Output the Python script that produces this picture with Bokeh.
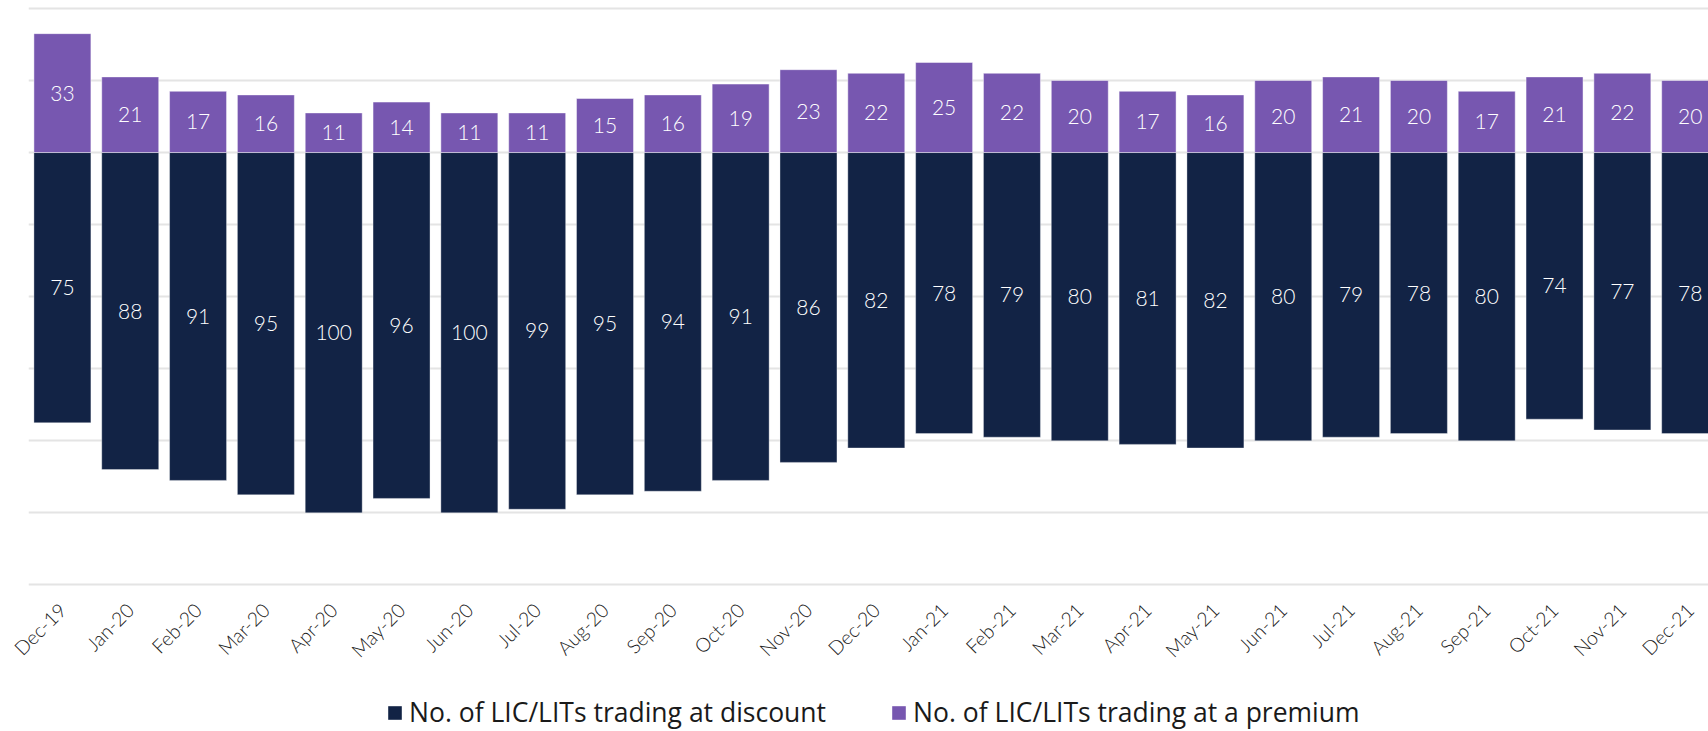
import math
from bokeh.plotting import figure
from bokeh.layouts import column
from bokeh.models import ColumnDataSource, FixedTicker, Range1d, Legend, LegendItem
from bokeh.core.properties import value
from bokeh.embed import file_html
from bokeh.resources import INLINE

months = ["Dec-19", "Jan-20", "Feb-20", "Mar-20", "Apr-20", "May-20", "Jun-20", "Jul-20",
          "Aug-20", "Sep-20", "Oct-20", "Nov-20", "Dec-20", "Jan-21", "Feb-21", "Mar-21",
          "Apr-21", "May-21", "Jun-21", "Jul-21", "Aug-21", "Sep-21", "Oct-21", "Nov-21", "Dec-21"]
premium = [33, 21, 17, 16, 11, 14, 11, 11, 15, 16, 19, 23, 22, 25, 22, 20, 17, 16, 20, 21, 20, 17, 21, 22, 20]
discount = [75, 88, 91, 95, 100, 96, 100, 99, 95, 94, 91, 86, 82, 78, 79, 80, 81, 82, 80, 79, 78, 80, 74, 77, 78]
series_labels = ["No. of LIC/LITs trading at discount", "No. of LIC/LITs trading at a premium"]

NAVY = "#122345"
PURPLE = "#7757b0"
FONT_LIGHT = "Lato Light"
FONT_LEG = "Open Sans"

xs = list(range(len(months)))
src = ColumnDataSource(dict(
    x=xs,
    prem=premium,
    disc_neg=[-d for d in discount],
    prem_mid=[p / 2 for p in premium],
    disc_mid=[-d / 2 for d in discount],
    prem_lbl=[str(p) for p in premium],
    disc_lbl=[str(d) for d in discount],
))

p = figure(frame_width=1680, frame_height=588, output_backend="svg", toolbar_location=None,
           x_range=Range1d(-0.5, 24.27), y_range=Range1d(-121, 42.2),
           min_border_left=28, min_border_right=0, min_border_top=0, min_border_bottom=88)
p.outline_line_color = None
p.background_fill_color = "white"
p.border_fill_color = "white"

p.vbar(x="x", top=0, bottom="disc_neg", width=0.84, source=src,
       fill_color=NAVY, line_color="#ffffff", line_alpha=0.35, line_width=1)
p.vbar(x="x", top="prem", bottom=0, width=0.84, source=src,
       fill_color=PURPLE, line_color="#ffffff", line_alpha=0.45, line_width=1)

p.text(x="x", y="prem_mid", text="prem_lbl", source=src, text_color="white",
       text_font=value(FONT_LIGHT), text_font_size="21px", text_align="center", text_baseline="middle")
p.text(x="x", y="disc_mid", text="disc_lbl", source=src, text_color="white",
       text_font=value(FONT_LIGHT), text_font_size="21px", text_align="center", text_baseline="middle")

p.yaxis.visible = False
p.ygrid.ticker = FixedTicker(ticks=[40, 20, 0, -20, -40, -60, -80, -100, -120])
p.ygrid.grid_line_color = "#e4e4e4"
p.ygrid.grid_line_width = 2
p.xgrid.grid_line_color = None

ax = p.xaxis[0]
ax.ticker = FixedTicker(ticks=xs)
ax.major_label_overrides = {i: m for i, m in enumerate(months)}
ax.major_label_orientation = math.pi / 4
ax.major_label_text_font = FONT_LIGHT
ax.major_label_text_font_size = "19.5px"
ax.major_label_text_color = "#1a1a1a"
ax.major_label_standoff = 12
ax.axis_line_color = None
ax.major_tick_line_color = None
ax.minor_tick_line_color = None

# legend strip below the chart
p2 = figure(frame_width=1708, frame_height=55, output_backend="svg", toolbar_location=None,
            x_range=Range1d(0, 1708), y_range=Range1d(0, 55),
            x_axis_location=None, y_axis_location=None,
            min_border_left=0, min_border_right=0, min_border_top=0, min_border_bottom=0)
p2.outline_line_color = None
p2.grid.visible = False
p2.border_fill_color = "white"
ld = p2.quad(left=[-20], right=[-10], bottom=[-20], top=[-10], fill_color=NAVY, line_color=None)
lp = p2.quad(left=[-20], right=[-10], bottom=[-20], top=[-10], fill_color=PURPLE, line_color=None)

legend = Legend(items=[
    LegendItem(label=series_labels[0], renderers=[ld]),
    LegendItem(label=series_labels[1], renderers=[lp]),
], orientation="horizontal", location=(386, 1),
    label_text_font=FONT_LEG, label_text_font_size="26.5px", label_text_color="#1a1a1a",
    glyph_width=17, glyph_height=17, spacing=64, label_standoff=6,
    border_line_color=None, background_fill_alpha=0, margin=0, padding=0)
p2.add_layout(legend, "center")

layout = column(p, p2, spacing=0)
open("out.html", "w").write(file_html(layout, INLINE))
